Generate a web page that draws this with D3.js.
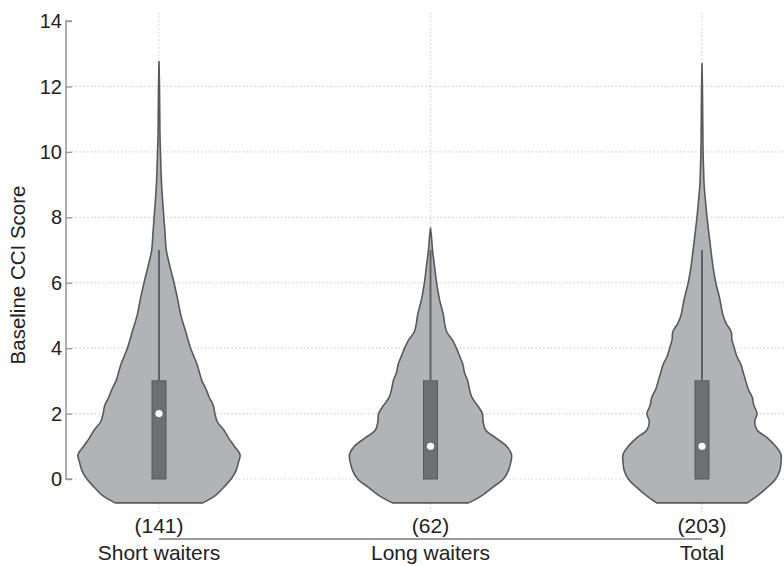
<!DOCTYPE html>
<html>
<head>
<meta charset="utf-8">
<script src="https://cdn.jsdelivr.net/npm/d3@7"></script>
<style>
  html, body { margin: 0; padding: 0; background: #fff; }
  svg { display: block; font-family: "Liberation Sans", Arial, Helvetica, sans-serif; }
</style>
</head>
<body>
<svg id="chart" width="784" height="566"></svg>
<script>
// Groups and sample sizes
const categories = ["Short waiters", "Long waiters", "Total"];
const counts = [141, 62, 203];

// Box summary per group (CCI score)
const q1 = [0, 0, 0];
const q3 = [3, 3, 3];
const medians = [2, 1, 1];
const whiskerHigh = [7, 7, 7];

// Kernel density profiles: [score, relative density]
const densityShort = [
  [-0.73, 0.54], [-0.5, 0.70], [-0.25, 0.80], [0, 0.89], [0.25, 0.95], [0.5, 0.98],
  [0.75, 1.00], [1.0, 0.93], [1.25, 0.86], [1.5, 0.80], [1.75, 0.72], [2.0, 0.69],
  [2.25, 0.67], [2.5, 0.62], [2.75, 0.58], [3.0, 0.53], [3.25, 0.50], [3.5, 0.47],
  [3.75, 0.43], [4.0, 0.39], [4.5, 0.33], [5.0, 0.27], [5.5, 0.23], [6.0, 0.185],
  [6.5, 0.135], [7.0, 0.09], [7.5, 0.075], [8.0, 0.06], [8.5, 0.045], [9.0, 0.032],
  [9.5, 0.024], [10.0, 0.018], [10.5, 0.012], [11.0, 0.01], [11.5, 0.008],
  [12.0, 0.006], [12.4, 0.003], [12.76, 0]
];
const densityLong = [
  [-0.73, 0.47], [-0.5, 0.64], [-0.25, 0.77], [0, 0.90], [0.25, 0.96], [0.5, 0.99],
  [0.75, 1.00], [1.0, 0.94], [1.25, 0.81], [1.5, 0.68], [1.75, 0.65], [2.0, 0.64],
  [2.25, 0.58], [2.5, 0.51], [2.75, 0.48], [3.0, 0.46], [3.25, 0.42], [3.5, 0.40],
  [3.75, 0.36], [4.0, 0.32], [4.25, 0.27], [4.5, 0.20], [4.75, 0.175], [5.0, 0.16],
  [5.5, 0.11], [6.0, 0.075], [6.5, 0.05], [7.0, 0.025], [7.4, 0.012], [7.67, 0]
];
const densityTotal = [
  [-0.73, 0.56], [-0.5, 0.69], [-0.25, 0.81], [0, 0.91], [0.25, 0.96], [0.5, 0.975],
  [0.75, 0.975], [1.0, 0.91], [1.25, 0.81], [1.5, 0.68], [1.75, 0.65], [2.0, 0.68],
  [2.25, 0.64], [2.5, 0.62], [2.75, 0.57], [3.0, 0.54], [3.25, 0.51], [3.5, 0.48],
  [3.75, 0.43], [4.0, 0.40], [4.25, 0.37], [4.5, 0.36], [4.75, 0.30], [5.0, 0.26],
  [5.5, 0.22], [6.0, 0.17], [6.5, 0.135], [7.0, 0.11], [7.5, 0.085], [8.0, 0.062],
  [8.5, 0.043], [9.0, 0.026], [9.5, 0.019], [10.0, 0.013], [11.0, 0.009],
  [12.0, 0.005], [12.7, 0]
];
const densities = [densityShort, densityLong, densityTotal];

// Axis ticks
const yTicks = [0, 2, 4, 6, 8, 10, 12, 14];
const gridTicks = [0, 2, 4, 6, 8, 10, 12];

const svg = d3.select("#chart");

const y = d3.scaleLinear().domain([0, 14]).range([479, 21]);
const x = d3.scalePoint().domain(categories).range([159, 702]);
const w = d3.scaleLinear().domain([0, 1]).range([0, 81]);

const axisX = 66;

// Horizontal dotted grid
svg.append("g")
  .selectAll("line")
  .data(gridTicks)
  .join("line")
  .attr("x1", axisX + 6).attr("x2", 784)
  .attr("y1", d => y(d)).attr("y2", d => y(d))
  .attr("stroke", "#c8c8c8")
  .attr("stroke-width", 1.2)
  .attr("stroke-dasharray", "1.2,2.6");

// Vertical dotted guides through each group
svg.append("g")
  .selectAll("line")
  .data(categories)
  .join("line")
  .attr("x1", d => x(d)).attr("x2", d => x(d))
  .attr("y1", 13).attr("y2", 514)
  .attr("stroke", "#c8c8c8")
  .attr("stroke-width", 1.2)
  .attr("stroke-dasharray", "1.2,2.6");

// Y axis
const yAxis = d3.axisRight(y).tickValues(yTicks).tickSize(6).tickFormat("");
const gy = svg.append("g").attr("transform", `translate(${axisX},0)`).call(yAxis);
gy.select(".domain").attr("stroke", "#9a9a9a").attr("stroke-width", 1.6)
  .attr("d", `M6,${y(14)}H0V${y(0)}H6`);
gy.selectAll(".tick line").attr("stroke", "#9a9a9a").attr("stroke-width", 1.4);

svg.append("g")
  .selectAll("text")
  .data(yTicks)
  .join("text")
  .attr("x", 62)
  .attr("y", d => y(d))
  .attr("dy", "0.36em")
  .attr("text-anchor", "end")
  .attr("font-size", 20)
  .attr("fill", "#222")
  .text(d => d);

svg.append("text")
  .attr("transform", "translate(25,275) rotate(-90)")
  .attr("text-anchor", "middle")
  .attr("font-size", 20.5)
  .attr("fill", "#222")
  .text("Baseline CCI Score");

// X axis baseline
svg.append("line")
  .attr("x1", x(categories[0])).attr("x2", x(categories[2]))
  .attr("y1", 539).attr("y2", 539)
  .attr("stroke", "#9a9a9a")
  .attr("stroke-width", 2);

// Violins
const groups = svg.append("g")
  .selectAll("g")
  .data(categories.map((c, i) => ({ c, i })))
  .join("g");

groups.append("path")
  .attr("d", d => {
    const cx = x(d.c);
    return d3.area()
      .y(p => y(p[0]))
      .x0(p => cx - w(p[1]))
      .x1(p => cx + w(p[1]))
      .curve(d3.curveCatmullRom.alpha(0.5))(densities[d.i]);
  })
  .attr("fill", "#b2b3b7")
  .attr("stroke", "#58595d")
  .attr("stroke-width", 1.6)
  .attr("stroke-linejoin", "round");

// Whiskers
groups.append("line")
  .attr("x1", d => x(d.c)).attr("x2", d => x(d.c))
  .attr("y1", d => y(q3[d.i])).attr("y2", d => y(whiskerHigh[d.i]))
  .attr("stroke", "#606165")
  .attr("stroke-width", 2);

// Boxes
groups.append("rect")
  .attr("x", d => x(d.c) - 7)
  .attr("width", 14)
  .attr("y", d => y(q3[d.i]))
  .attr("height", d => y(q1[d.i]) - y(q3[d.i]))
  .attr("fill", "#6e6f73")
  .attr("stroke", "#58595d")
  .attr("stroke-width", 1);

// Medians
groups.append("circle")
  .attr("cx", d => x(d.c))
  .attr("cy", d => y(medians[d.i]))
  .attr("r", 3.6)
  .attr("fill", "#fff");

// Category labels with sample sizes
groups.append("text")
  .attr("x", d => x(d.c))
  .attr("y", 533)
  .attr("text-anchor", "middle")
  .attr("font-size", 21)
  .attr("fill", "#222")
  .text(d => `(${counts[d.i]})`);

groups.append("text")
  .attr("x", d => x(d.c))
  .attr("y", 560)
  .attr("text-anchor", "middle")
  .attr("font-size", 21)
  .attr("fill", "#222")
  .text(d => d.c);
</script>
</body>
</html>
